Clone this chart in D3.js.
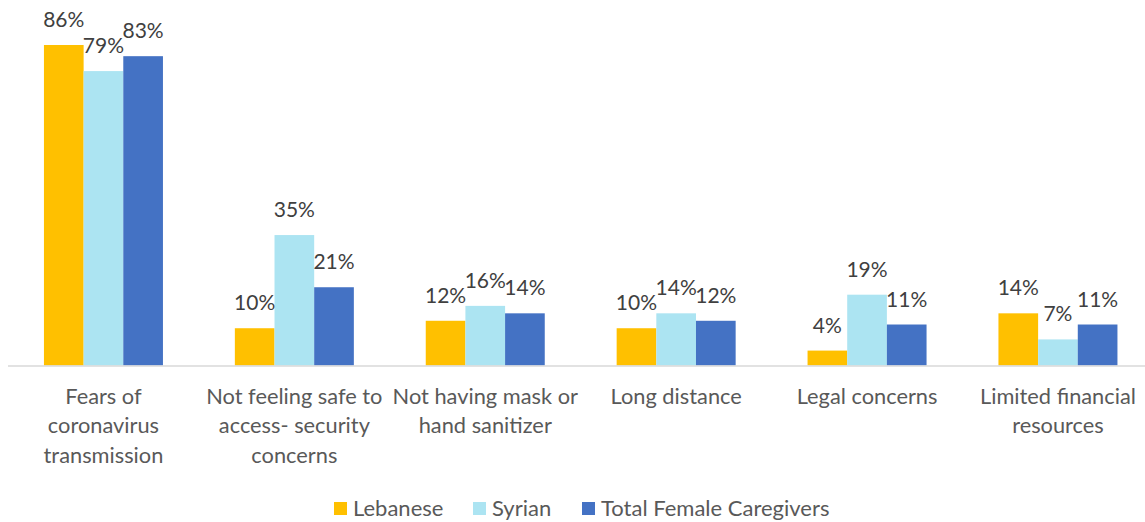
<!DOCTYPE html>
<html>
<head>
<meta charset="utf-8">
<script src="https://cdn.jsdelivr.net/npm/d3@7"></script>
<style>
  body { margin: 0; background: #fff; }
  svg { display: block; font-family: Lato, "Open Sans", sans-serif; }
  .value { fill: #404040; font-size: 21px; }
  .cat { fill: #595959; font-size: 21.8px; }
  .legend text { fill: #595959; font-size: 22px; }
</style>
</head>
<body>
<div id="chart"></div>
<script>
// categories, wrapped the way the reference shows them
var categories = [
  ["Fears of", "coronavirus", "transmission"],
  ["Not feeling safe to", "access- security", "concerns"],
  ["Not having mask or", "hand sanitizer"],
  ["Long distance"],
  ["Legal concerns"],
  ["Limited financial", "resources"]
];
var seriesNames = ["Lebanese", "Syrian", "Total Female Caregivers"];
var lebanese = [86, 10, 12, 10, 4, 14];
var syrian = [79, 35, 16, 14, 19, 7];
var totalFemale = [83, 21, 14, 12, 11, 11];

var colors = ["#FFC000", "#ACE4F2", "#4472C4"];
var seriesValues = [lebanese, syrian, totalFemale];

var width = 1145, height = 522;
var margin = {top: 45, left: 8, baseline: 365.5};

var svg = d3.select("#chart").append("svg")
    .attr("width", width)
    .attr("height", height);

var x0 = d3.scaleBand()
    .domain(d3.range(categories.length))
    .range([margin.left, margin.left + 190.9 * categories.length])
    .paddingInner(0)
    .paddingOuter(0);

var x1 = d3.scaleBand()
    .domain(d3.range(seriesNames.length))
    .range([x0.bandwidth() / 2 - 59.5, x0.bandwidth() / 2 + 59.5]);

var y = d3.scaleLinear()
    .domain([0, 86])
    .range([margin.baseline, margin.top]);

var rows = categories.map(function(c, i) {
  return seriesValues.map(function(s, j) { return {cat: i, ser: j, value: s[i]}; });
});

var groups = svg.append("g").selectAll("g")
    .data(rows)
    .enter().append("g")
    .attr("transform", function(d, i) { return "translate(" + x0(i) + ",0)"; });

groups.selectAll("rect")
    .data(function(d) { return d; })
    .enter().append("rect")
    .attr("x", function(d) { return x1(d.ser); })
    .attr("width", x1.bandwidth())
    .attr("y", function(d) { return y(d.value); })
    .attr("height", function(d) { return y(0) - y(d.value); })
    .attr("fill", function(d) { return colors[d.ser]; });

groups.selectAll("text.value")
    .data(function(d) { return d; })
    .enter().append("text")
    .attr("class", "value")
    .attr("x", function(d) { return x1(d.ser) + x1.bandwidth() / 2; })
    .attr("y", function(d) { return y(d.value) - 18; })
    .attr("text-anchor", "middle")
    .text(function(d) { return d.value + "%"; });

// baseline
svg.append("line")
    .attr("x1", x0.range()[0])
    .attr("x2", x0.range()[1])
    .attr("y1", y(0) + 0.5)
    .attr("y2", y(0) + 0.5)
    .attr("stroke", "#D9D9D9")
    .attr("stroke-width", 1.3);

// category labels
var cats = svg.append("g").selectAll("text")
    .data(categories)
    .enter().append("text")
    .attr("class", "cat")
    .attr("text-anchor", "middle")
    .attr("transform", function(d, i) { return "translate(" + (x0(i) + x0.bandwidth() / 2) + ",404)"; });

cats.selectAll("tspan")
    .data(function(d) { return d; })
    .enter().append("tspan")
    .attr("x", 0)
    .attr("y", function(d, i) { return i * 29.3; })
    .text(function(d) { return d; });

// legend
var legendX = [334, 473, 582];
var legend = svg.append("g").attr("class", "legend")
    .selectAll("g")
    .data(seriesNames)
    .enter().append("g")
    .attr("transform", function(d, i) { return "translate(" + legendX[i] + ",502)"; });

legend.append("rect")
    .attr("width", 13)
    .attr("height", 13)
    .attr("fill", function(d, i) { return colors[i]; });

legend.append("text")
    .attr("x", 19)
    .attr("y", 14)
    .text(function(d) { return d; });
</script>
</body>
</html>
